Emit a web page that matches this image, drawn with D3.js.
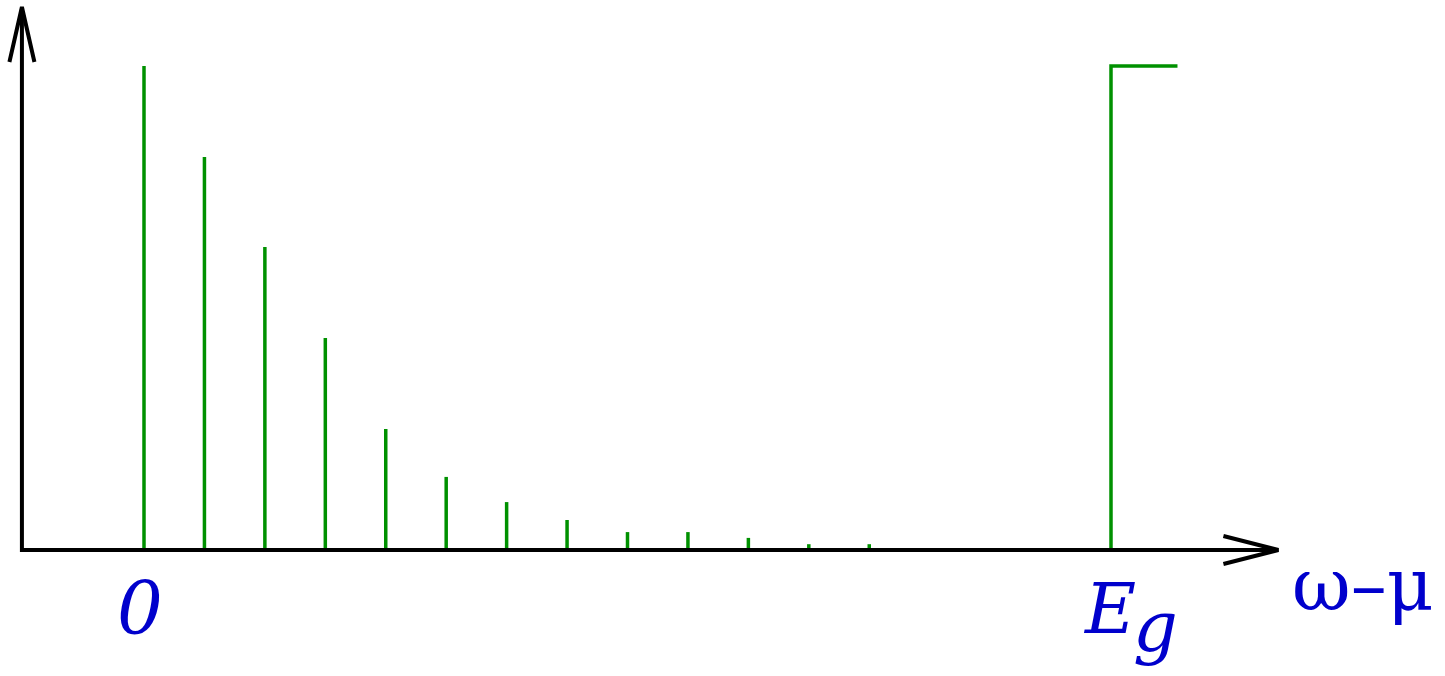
<!DOCTYPE html>
<html>
<head>
<meta charset="utf-8">
<script src="https://cdn.jsdelivr.net/npm/d3@7"></script>
<style>
  html, body { margin: 0; padding: 0; background: #fff; }
  svg { display: block; }
  .lbl { font-family: "DejaVu Serif", serif; fill: #0000cc; }
</style>
</head>
<body>
<svg id="chart" width="1445" height="676"></svg>
<script>
// Discrete peaks at integer steps (in units of the level spacing), then a gap edge at E_g
const peakPositions = [0, 1, 2, 3, 4, 5, 6, 7, 8, 9, 10, 11, 12];
const peakHeights = [1.0, 0.812, 0.626, 0.438, 0.25, 0.151, 0.099, 0.062, 0.037, 0.037, 0.025, 0.012, 0.012];
const gapEdge = 16;        // position of E_g
const gapPlateauEnd = 17.1; // where the continuum line stops
const gapHeight = 1.0;
const xLabels = [{ pos: 0, text: "0" }];

const svg = d3.select("#chart");

const x = d3.scaleLinear().domain([0, 16]).range([144, 1111]);
const y = d3.scaleLinear().domain([0, 1]).range([550, 66]);

const xMin = -2.02, xMax = 18.77, yMax = 1.122;

const green = "#009100";

// Peaks
svg.append("g")
  .selectAll("line")
  .data(peakPositions.map((p, i) => ({ p, h: peakHeights[i] })))
  .join("line")
  .attr("x1", d => x(d.p))
  .attr("x2", d => x(d.p))
  .attr("y1", y(0))
  .attr("y2", d => y(d.h))
  .attr("stroke", green)
  .attr("stroke-width", 3.5);

// Continuum above the gap
svg.append("path")
  .attr("d", d3.line()([
    [x(gapEdge), y(0)],
    [x(gapEdge), y(gapHeight)],
    [x(gapPlateauEnd), y(gapHeight)]
  ]))
  .attr("fill", "none")
  .attr("stroke", green)
  .attr("stroke-width", 3.5)
  .attr("stroke-linejoin", "miter");

// Axes
svg.append("path")
  .attr("d", d3.line()([
    [x(xMin), y(yMax) + 2],
    [x(xMin), y(0)],
    [x(xMax) - 2, y(0)]
  ]))
  .attr("fill", "none")
  .attr("stroke", "#000")
  .attr("stroke-width", 4)
  .attr("stroke-linejoin", "miter");

// Open arrowheads
const ox = x(xMin), oy = y(0);
const ty = y(yMax), tx = x(xMax);
svg.append("path")
  .attr("d", d3.line()([[ox - 12.5, ty + 55], [ox, ty], [ox + 12.5, ty + 55]]))
  .attr("fill", "none").attr("stroke", "#000").attr("stroke-width", 4);
svg.append("path")
  .attr("d", d3.line()([[tx - 55, oy - 14], [tx, oy], [tx - 55, oy + 14]]))
  .attr("fill", "none").attr("stroke", "#000").attr("stroke-width", 4);

// Labels
svg.selectAll("text.xl")
  .data(xLabels)
  .join("text")
  .attr("class", "xl lbl")
  .attr("x", d => x(d.pos) - 4)
  .attr("y", 634)
  .attr("text-anchor", "middle")
  .style("font-style", "italic")
  .style("font-size", "72px")
  .text(d => d.text);

const eg = svg.append("text").attr("class", "lbl")
  .attr("x", x(gapEdge) - 26)
  .attr("y", 633)
  .style("font-style", "italic")
  .style("font-size", "70px");
eg.append("tspan").text("E");
eg.append("tspan").attr("dx", -3).attr("dy", 18).text("g");

svg.append("text")
  .attr("class", "lbl")
  .attr("x", 1292)
  .attr("y", 610)
  .style("font-size", "72px")
  .text("ω–μ");
</script>
</body>
</html>
